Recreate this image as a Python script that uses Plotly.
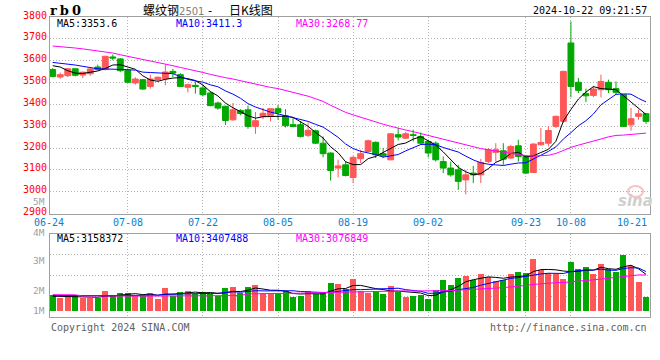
import plotly.graph_objects as go
import pandas as pd

# ---------------- data ----------------
dates = ["06-24", "06-25", "06-26", "06-27", "06-28",
         "07-01", "07-02", "07-03", "07-04", "07-05",
         "07-08", "07-09", "07-10", "07-11", "07-12",
         "07-15", "07-16", "07-17", "07-18", "07-19",
         "07-22", "07-23", "07-24", "07-25", "07-26",
         "07-29", "07-30", "07-31", "08-01", "08-02",
         "08-05", "08-06", "08-07", "08-08", "08-09",
         "08-12", "08-13", "08-14", "08-15", "08-16",
         "08-19", "08-20", "08-21", "08-22", "08-23",
         "08-26", "08-27", "08-28", "08-29", "08-30",
         "09-02", "09-03", "09-04", "09-05", "09-06",
         "09-09", "09-10", "09-11", "09-12", "09-13",
         "09-18", "09-19", "09-20",
         "09-23", "09-24", "09-25", "09-26", "09-27",
         "09-30",
         "10-08", "10-09", "10-10", "10-11",
         "10-14", "10-15", "10-16", "10-17", "10-18",
         "10-21", "10-22"]

open_ = [3559, 3525, 3531, 3563, 3534, 3540, 3571, 3559, 3617, 3608,
         3556, 3498, 3513, 3482, 3513, 3517, 3551, 3536, 3478, 3487,
         3475, 3452, 3406, 3391, 3329, 3372, 3375, 3299, 3345, 3349,
         3380, 3348, 3307, 3307, 3258, 3279, 3222, 3177, 3108, 3123,
         3065, 3151, 3184, 3226, 3174, 3146, 3261, 3245, 3261, 3253,
         3230, 3222, 3138, 3108, 3100, 3054, 3085, 3077, 3138, 3180,
         3187, 3154, 3210, 3161, 3088, 3215, 3222, 3299, 3322, 3681,
         3501, 3449, 3441, 3467, 3501, 3472, 3444, 3306, 3345, 3357]
high = [3566, 3546, 3566, 3566, 3551, 3566, 3582, 3623, 3628, 3612,
        3562, 3524, 3516, 3536, 3528, 3582, 3562, 3543, 3495, 3505,
        3490, 3459, 3413, 3394, 3406, 3378, 3394, 3365, 3383, 3383,
        3398, 3378, 3337, 3322, 3317, 3284, 3253, 3180, 3146, 3138,
        3164, 3192, 3238, 3230, 3200, 3268, 3291, 3273, 3284, 3271,
        3238, 3230, 3161, 3138, 3123, 3100, 3118, 3150, 3199, 3222,
        3222, 3215, 3238, 3169, 3222, 3291, 3299, 3348, 3554, 3780,
        3521, 3472, 3485, 3536, 3513, 3505, 3444, 3383, 3375, 3360]
low = [3524, 3517, 3525, 3528, 3520, 3531, 3556, 3556, 3602, 3547,
       3498, 3490, 3467, 3472, 3504, 3487, 3525, 3479, 3455, 3449,
       3436, 3391, 3375, 3306, 3325, 3350, 3288, 3265, 3333, 3322,
       3329, 3294, 3294, 3248, 3250, 3218, 3157, 3051, 3065, 3070,
       3039, 3131, 3180, 3154, 3154, 3143, 3235, 3241, 3230, 3215,
       3157, 3138, 3085, 3069, 3008, 2988, 3039, 3039, 3130, 3138,
       3123, 3149, 3138, 3082, 3085, 3210, 3207, 3291, 3317, 3432,
       3452, 3410, 3433, 3432, 3452, 3444, 3296, 3280, 3329, 3311]
close = [3528, 3536, 3563, 3533, 3547, 3562, 3559, 3620, 3612, 3554,
         3501, 3516, 3470, 3516, 3524, 3548, 3543, 3482, 3490, 3482,
         3444, 3394, 3383, 3326, 3375, 3358, 3299, 3325, 3359, 3380,
         3363, 3302, 3299, 3253, 3281, 3222, 3174, 3097, 3118, 3074,
         3157, 3174, 3233, 3169, 3164, 3265, 3250, 3265, 3258, 3222,
         3177, 3146, 3108, 3077, 3047, 3077, 3077, 3134, 3192, 3192,
         3149, 3207, 3161, 3085, 3218, 3225, 3280, 3345, 3551, 3482,
         3464, 3439, 3470, 3505, 3467, 3455, 3299, 3334, 3357, 3322]

volume = [1379000, 1092000, 1293000, 1235000, 1092000, 1092000, 1092000, 1724000, 1293000, 1523000,
          1523000, 1293000, 1293000, 1523000, 1006000, 1954000, 1293000, 1609000, 1724000, 1437000,
          1609000, 1437000, 1293000, 1954000, 2040000, 1523000, 2040000, 2212000, 1523000, 1523000,
          1523000, 1666000, 1178000, 1293000, 1695000, 1465000, 1609000, 2385000, 2270000, 1839000,
          2758000, 1666000, 1523000, 1724000, 1437000, 2126000, 1638000, 1178000, 1293000, 1379000,
          1034000, 1781000, 2643000, 2212000, 2816000, 3017000, 2672000, 3160000, 2902000, 2586000,
          2672000, 3160000, 3333000, 3246000, 4453000, 3505000, 3246000, 3160000, 2729000, 4195000,
          3591000, 3764000, 3160000, 4022000, 3563000, 3333000, 4827000, 3850000, 2471000, 1178000]

# moving-average values before enough history is on screen
ma5_head = [3577, 3571, 3554, 3543]
ma10_head = [3592, 3589, 3585, 3580, 3574, 3567, 3563, 3562, 3562]
ma30_head = [3667, 3665, 3663, 3658, 3654, 3650, 3646, 3640, 3635, 3627,
             3620, 3614, 3608, 3601, 3594, 3585, 3577, 3569, 3562, 3554,
             3546, 3537, 3528, 3522, 3516, 3508, 3500, 3492, 3485]
vma5_head = [1250000, 1240000, 1220000, 1220000]
vma10_head = [1300000, 1300000, 1290000, 1290000, 1280000, 1280000, 1270000, 1270000, 1270000]
vma30_head = [1380000, 1380000, 1380000, 1370000, 1270000, 1260000, 1260000, 1260000, 1260000, 1260000,
              1260000, 1260000, 1260000, 1270000, 1290000, 1290000, 1290000, 1290000, 1290000, 1290000,
              1290000, 1290000, 1290000, 1290000, 1300000, 1310000, 1450000, 1450000, 1460000]

label_dates = ["06-24", "07-08", "07-22", "08-05", "08-19", "09-02", "09-23", "10-08", "10-21"]
price_ticks = [2900, 3000, 3100, 3200, 3300, 3400, 3500, 3600, 3700, 3800]
vol_labels = ["5M", "4M", "3M", "2M", "1M"]

title_code = "rb0"
title_name = "螺纹钢"
title_contract = "2501"
title_sep = "-"
title_kind = "日K线图"
timestamp = "2024-10-22 09:21:57"
legend_price = ["MA5:3353.6", "MA10:3411.3", "MA30:3268.77"]
legend_vol = ["MA5:3158372", "MA10:3407488", "MA30:3076849"]
footer_left = "Copyright 2024 SINA.COM"
footer_right = "http://finance.sina.com.cn"
watermark = "sina"

# ---------------- derived ----------------
def moving(values, n, head):
    s = pd.Series(values, dtype=float).rolling(n).mean().tolist()
    return head + s[len(head):]

x = list(range(len(dates)))
ma5 = moving(close, 5, ma5_head)
ma10 = moving(close, 10, ma10_head)
ma30 = moving(close, 30, ma30_head)
vma5 = moving(volume, 5, vma5_head)
vma10 = moving(volume, 10, vma10_head)
vma30 = moving(volume, 30, vma30_head)

RED = "#ff5757"
GREEN = "#00a800"
vol_colors = [RED if c > o else GREEN for o, c in zip(open_, close)]

MONO = "DejaVu Sans Mono"
GRID = "#b4b4b4"
FRAME = "#a0a0a0"

# layout geometry (pixels)
W, H = 660, 360
L, R, T, B = 50, 10, 17, 43
PH = H - T - B


def py(px):
    return (H - B - px) / PH


def pxx(px):
    return (px - L) / (W - L - R)


main_dom = [py(213.5), 1.0]
vol_dom = [0.0, py(234)]
vol_range = [-543000, 6610000]
vol_grid = [vol_range[0] + (vol_range[1] - vol_range[0]) * k / 4 for k in (1, 2, 3)]

tick_idx = [dates.index(d) for d in label_dates[1:-1]]

fig = go.Figure()
fig.add_trace(go.Candlestick(
    x=x, open=open_, high=high, low=low, close=close,
    increasing=dict(line=dict(color=RED, width=1), fillcolor=RED),
    decreasing=dict(line=dict(color=GREEN, width=1), fillcolor=GREEN),
    whiskerwidth=0, xaxis="x", yaxis="y", hoverinfo="skip", showlegend=False))
for vals, col in ((ma5, "#000000"), (ma10, "#0000ff"), (ma30, "#ff00ff")):
    fig.add_trace(go.Scatter(x=x, y=vals, mode="lines", line=dict(color=col, width=1),
                             xaxis="x", yaxis="y", hoverinfo="skip", showlegend=False))
fig.add_trace(go.Bar(x=x, y=volume, marker=dict(color=vol_colors, line=dict(width=0)),
                     width=0.8, xaxis="x2", yaxis="y2", hoverinfo="skip", showlegend=False))
for vals, col in ((vma5, "#000000"), (vma10, "#0000ff"), (vma30, "#ff00ff")):
    fig.add_trace(go.Scatter(x=x, y=vals, mode="lines", line=dict(color=col, width=1),
                             xaxis="x2", yaxis="y2", hoverinfo="skip", showlegend=False))

axis_common = dict(showgrid=True, gridcolor=GRID, griddash="1px,2px", gridwidth=1,
                   zeroline=False, showline=True, mirror=True, linecolor=FRAME, linewidth=1,
                   ticks="", fixedrange=True)

fig.update_layout(
    width=W, height=H, margin=dict(l=L, r=R, t=T, b=B),
    paper_bgcolor="white", plot_bgcolor="white",
    boxgap=0.22, boxgroupgap=0,
    bargap=0,
    showlegend=False,
    xaxis=dict(domain=[0, 1], range=[-0.36, 79.53], anchor="y", tickvals=tick_idx,
               showticklabels=False, rangeslider=dict(visible=False), **axis_common),
    yaxis=dict(domain=main_dom, range=[2900, 3800], anchor="x", tickvals=price_ticks,
               ticklabelshift=-2,
               tickfont=dict(family=MONO, size=10, color="#ff0000"), **axis_common),
    xaxis2=dict(domain=[0, 1], range=[-0.36, 79.53], anchor="y2", tickvals=tick_idx,
                showticklabels=False, **axis_common),
    yaxis2=dict(domain=vol_dom, range=vol_range, anchor="x2", tickvals=vol_grid,
                showticklabels=False, **axis_common),
)

ann = []


def text(px_x, px_y, s, color="#000", size=10, family=MONO, xanchor="left"):
    ann.append(dict(x=pxx(px_x), y=py(px_y), xref="paper", yref="paper", text=s,
                    showarrow=False, xanchor=xanchor, yanchor="middle",
                    font=dict(family=family, size=size, color=color)))


# title row
text(48, 11, '<b><span style="letter-spacing:3px">' + title_code + '</span></b>',
     size=13, family="DejaVu Serif")
text(141, 10, title_name + '<span style="font-family:DejaVu Sans;font-size:10px;color:#808080">'
     + title_contract + '</span>', size=12, family="Noto Sans CJK SC")
text(210, 10, title_sep, size=12, family="Noto Sans CJK SC", xanchor="center")
text(227, 10, title_kind, size=12, family="Noto Sans CJK SC")
text(649, 11, timestamp, size=10, xanchor="right")

# MA legends
for s, px_x, col in zip(legend_price, (55, 174, 294), ("#000000", "#0000ff", "#ff00ff")):
    text(px_x, 24, s, color=col)
for s, px_x, col in zip(legend_vol, (55, 174, 294), ("#000000", "#0000ff", "#ff00ff")):
    text(px_x, 238, s, color=col)

# date labels under price pane
for d in label_dates:
    i = dates.index(d)
    if d == label_dates[0]:
        px_x, anc = 49, "center"
    elif d == label_dates[-1]:
        px_x, anc = 649, "right"
    else:
        px_x, anc = 52.7 + 7.51 * i, "center"
    text(px_x, 222, d, color="#0a80d0", xanchor=anc)

# volume labels (as drawn on the reference)
for s, px_y in zip(vol_labels, (201, 232, 260.5, 290.5, 310.5)):
    text(47, px_y, s, color="#a0a0a0", size=9.5, xanchor="right")

# watermark (logo eye + word)
fig.add_shape(type="circle", xref="paper", yref="paper",
              x0=pxx(628), x1=pxx(643), y0=py(197), y1=py(186),
              line=dict(color="#f3c4c4", width=2), fillcolor="rgba(0,0,0,0)", layer="below")
text(635, 201, "<b><i>" + watermark + "</i></b>", color="#cfcfcf", size=15, family="DejaVu Sans",
     xanchor="center")

# footer
text(49, 327.5, footer_left, color="#606060")
text(649, 327.5, footer_right, color="#606060", xanchor="right")

fig.update_layout(annotations=ann)
fig.write_html("out.html", config={"displayModeBar": False, "staticPlot": True},
               post_script="document.body.style.margin='0';document.body.style.padding='0';")
